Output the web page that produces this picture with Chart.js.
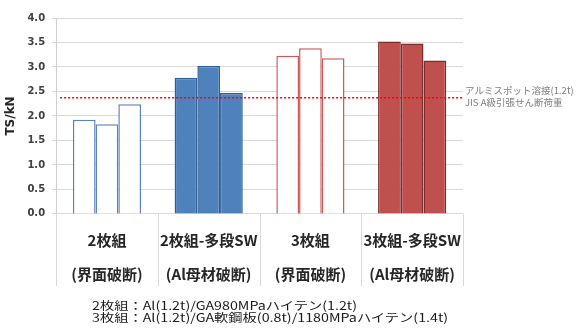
<!DOCTYPE html>
<html>
<head>
<meta charset="utf-8">
<script src="https://cdn.jsdelivr.net/npm/chart.js@4"></script>
<style>
  html, body { margin: 0; padding: 0; background: #fff; }
  #wrap { position: relative; width: 576px; height: 333px; }
  #notes {
    position: absolute; left: 92px; top: 299px;
    font-family: "Noto Sans CJK JP", sans-serif; font-size: 11.5px;
    line-height: 12px; color: #1a1a1a; white-space: nowrap;
    transform: scaleX(1.24); transform-origin: left top;
  }
</style>
</head>
<body>
<div id="wrap">
  <canvas id="tsChart"></canvas>
  <div id="notes">
    2枚組：Al(1.2t)/GA980MPaハイテン(1.2t)<br>
    3枚組：Al(1.2t)/GA軟鋼板(0.8t)/1180MPaハイテン(1.4t)
  </div>
</div>
<script>
// categories (two-line labels)
const categories = [
  ["2枚組", "(界面破断)"],
  ["2枚組-多段SW", "(Al母材破断)"],
  ["3枚組", "(界面破断)"],
  ["3枚組-多段SW", "(Al母材破断)"]
];
// three samples per condition, TS in kN
const sample1 = [1.92, 2.78, 3.23, 3.52];
const sample2 = [1.83, 3.02, 3.38, 3.48];
const sample3 = [2.24, 2.47, 3.18, 3.13];
// JIS A-class reference load
const jisLimit = 2.37;
const jisLabel = ["アルミスポット溶接(1.2t)", "JIS A級引張せん断荷重"];

const fills = ["#ffffff", "#4f81bd", "#ffffff", "#c0504d"];
const borders = ["#5b82c2", "#2f5e97", "#cf5a57", "#7a2d2b"];

// vertical separators under the x axis + the reference line
const extrasPlugin = {
  id: "extras",
  afterDatasetsDraw(chart) {
    const { ctx, chartArea, scales } = chart;
    const y = scales.y.getPixelForValue(jisLimit);
    ctx.save();
    ctx.strokeStyle = "#ff0000";
    ctx.lineWidth = 1.5;
    ctx.setLineDash([2, 2]);
    ctx.beginPath();
    ctx.moveTo(chartArea.left + 4, y);
    ctx.lineTo(chartArea.right, y);
    ctx.stroke();
    ctx.restore();
  },
  afterDraw(chart) {
    const { ctx, chartArea, scales } = chart;
    ctx.save();
    ctx.strokeStyle = "#d9d9d9";
    ctx.lineWidth = 1;
    for (let i = 0; i <= categories.length; i++) {
      const x = Math.round(scales.x.getPixelForValue(i - 0.5)) + 0.5;
      ctx.beginPath();
      ctx.moveTo(x, chartArea.bottom);
      ctx.lineTo(x, chartArea.bottom + 72);
      ctx.stroke();
    }
    ctx.fillStyle = "#7f7f7f";
    ctx.font = "9.5px 'Noto Sans CJK JP'";
    ctx.textBaseline = "middle";
    const y = scales.y.getPixelForValue(jisLimit);
    ctx.fillText(jisLabel[0], chartArea.right + 2, y - 7);
    ctx.fillText(jisLabel[1], chartArea.right + 2, y + 5);
    ctx.restore();
  }
};

function makeSet(label, data) {
  return {
    label: label,
    data: data,
    backgroundColor: fills,
    borderColor: borders,
    borderWidth: 1.5,
    categoryPercentage: 0.67,
    barPercentage: 1.0
  };
}

const ctx = document.getElementById("tsChart").getContext("2d");
new Chart(ctx, {
  type: "bar",
  data: {
    labels: categories,
    datasets: [
      makeSet("1", sample1),
      makeSet("2", sample2),
      makeSet("3", sample3)
    ]
  },
  options: {
    responsive: true,
    maintainAspectRatio: false,
    animation: false,
    layout: { padding: { top: 18, right: 113, bottom: 33, left: 4 } },
    plugins: {
      legend: { display: false },
      tooltip: { enabled: false }
    },
    scales: {
      x: {
        grid: { display: false, drawTicks: false },
        border: { display: false },
        ticks: {
          color: "#262626",
          padding: 9,
          maxRotation: 0,
          font: { family: "'Noto Sans CJK JP'", size: 15, weight: "bold", lineHeight: 2.27 }
        }
      },
      y: {
        min: 0,
        max: 4,
        border: { display: true, color: "#d0d0d0" },
        grid: { color: "#d9d9d9", tickLength: 4 },
        ticks: {
          stepSize: 0.5,
          color: "#404040",
          padding: 7,
          font: { family: "'DejaVu Sans'", size: 10, weight: "bold" },
          callback: (v) => v.toFixed(1)
        },
        title: {
          display: true,
          text: "TS/kN",
          color: "#262626",
          padding: { top: 0, bottom: 2 },
          font: { family: "'DejaVu Sans'", size: 12, weight: "bold" }
        }
      }
    }
  },
  plugins: [extrasPlugin]
});
</script>
</body>
</html>
